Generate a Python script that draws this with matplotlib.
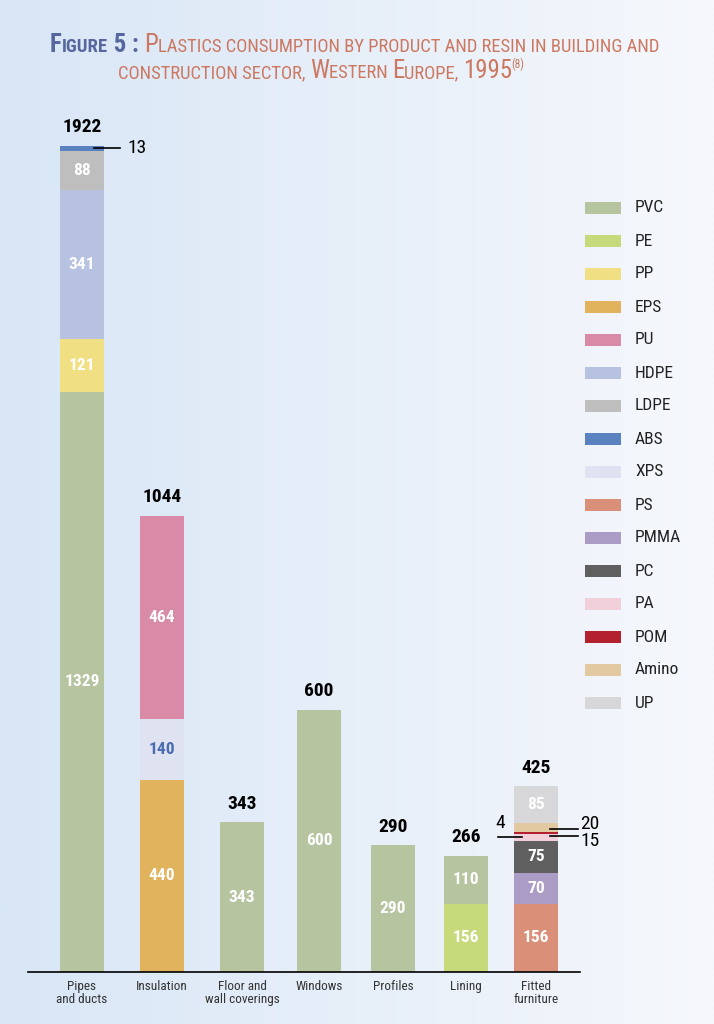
import matplotlib
matplotlib.use("Agg")
import matplotlib.pyplot as plt
import numpy as np
from matplotlib import font_manager as fm
from matplotlib.patches import Rectangle

names = {f.name for f in fm.fontManager.ttflist}
cands = [n for n in ["Roboto Condensed", "Liberation Sans Narrow", "Open Sans Condensed",
                     "DejaVu Sans Condensed", "Roboto", "Liberation Sans"] if n in names]
plt.rcParams['font.family'] = cands + ['DejaVu Sans']
plt.rcParams['font.stretch'] = 'condensed'

# ---------------- data ----------------
categories = ["Pipes\nand ducts", "Insulation", "Floor and\nwall coverings", "Windows",
              "Profiles", "Lining", "Fitted\nfurniture"]
totals = [1922, 1044, 343, 600, 290, 266, 425]
resins = ["PVC", "PE", "PP", "EPS", "PU", "HDPE", "LDPE", "ABS", "XPS", "PS",
          "PMMA", "PC", "PA", "POM", "Amino", "UP"]
# stacked segments per category, bottom to top: (resin, value)
pipes = [("PVC", 1329), ("PP", 121), ("HDPE", 341), ("LDPE", 88), ("ABS", 13)]
insulation = [("EPS", 440), ("XPS", 140), ("PU", 464)]
floor = [("PVC", 343)]
windows = [("PVC", 600)]
profiles = [("PVC", 290)]
lining = [("PE", 156), ("PVC", 110)]
furniture = [("PS", 156), ("PMMA", 70), ("PC", 75), ("PA", 15), ("POM", 4),
             ("Amino", 20), ("UP", 85)]
stacks = [pipes, insulation, floor, windows, profiles, lining, furniture]

colors = {"PVC": "#b6c5a0", "PE": "#c6da7c", "PP": "#f1df84", "EPS": "#e0b35c",
          "PU": "#d88aa6", "HDPE": "#b6c2e0", "LDPE": "#bebebe", "ABS": "#5a82c0",
          "XPS": "#dfe2f1", "PS": "#d98f78", "PMMA": "#ab9cc6", "PC": "#5f5f60",
          "PA": "#f1cfdb", "POM": "#b3202e", "Amino": "#e3c9a1", "UP": "#d7d7d9"}

# ---------------- figure ----------------
W, H = 714, 1024
fig = plt.figure(figsize=(W / 100, H / 100), dpi=100)

# background gradient
bg = fig.add_axes([0, 0, 1, 1], zorder=-10)
gx = np.linspace(0, 1, 256)
c0 = np.array([216, 230, 246]) / 255
c1 = np.array([246, 248, 252]) / 255
grad = c0[None, :] * (1 - gx[:, None]) + c1[None, :] * gx[:, None]
bg.imshow(grad[None, :, :], aspect="auto", extent=[0, 1, 0, 1])
bg.axis("off")

def px_ax(x0, y0, x1, y1):
    return [x0 / W, 1 - y1 / H, (x1 - x0) / W, (y1 - y0) / H]

ymax = 2000
ppu = 456 / 1044.0
top_px = 972 - ymax * ppu
ax = fig.add_axes(px_ax(28, top_px, 580, 972))
ax.patch.set_alpha(0)
xpos = [82, 162, 242, 319, 393, 466, 536]
bw = 44
ax.set_xlim(28, 580)
ax.set_ylim(0, ymax)

for i, stack in enumerate(stacks):
    bottom = 0
    for resin, v in stack:
        ax.bar(xpos[i], v, bottom=bottom, width=bw, color=colors[resin], linewidth=0)
        if v >= 50:
            tc = "#4a6db0" if resin == "XPS" else "white"
            ax.text(xpos[i], bottom + v / 2, str(v), ha="center", va="center",
                    color=tc, fontsize=12.5, fontweight="bold")
        bottom += v
    ax.text(xpos[i], bottom + 22, str(totals[i]), ha="center", va="bottom",
            fontsize=14, fontweight="bold", color="black")

for s in ["top", "right", "left"]:
    ax.spines[s].set_visible(False)
ax.spines["bottom"].set_linewidth(1.2)
ax.set_yticks([])
ax.set_xticks(xpos)
ax.set_xticklabels(categories, fontsize=9.5, color="#333333", linespacing=1.0)
ax.tick_params(axis="x", length=0, pad=6)

# callouts for small segments
def cum(stack, name):
    b = 0
    for r, v in stack:
        if r == name:
            return b + v / 2, v
        b += v

y13, v13 = cum(pipes, "ABS")
ax.plot([xpos[0] + 12, xpos[0] + 38], [y13, y13], color="black", lw=1.2)
ax.text(xpos[0] + 45, y13, str(v13), ha="left", va="center", fontsize=14)

y4, v4 = cum(furniture, "POM")
ax.plot([xpos[6] - 38, xpos[6] - 14], [y4 - 8, y4 - 8], color="black", lw=1.2)
ax.text(xpos[6] - 36, y4 + 22, str(v4), ha="center", va="center", fontsize=14)
y20, v20 = cum(furniture, "Amino")
ax.plot([xpos[6] + 14, xpos[6] + 42], [y20 - 2, y20 - 2], color="black", lw=1.2)
ax.text(xpos[6] + 44, y20 + 8, str(v20), ha="left", va="center", fontsize=14)
y15, v15 = cum(furniture, "PA")
ax.plot([xpos[6] + 14, xpos[6] + 42], [y15 + 2, y15 + 2], color="black", lw=1.2)
ax.text(xpos[6] + 44, y15 - 8, str(v15), ha="left", va="center", fontsize=14)

# legend
for k, r in enumerate(resins):
    yc = 208 + k * 33.0
    fig.add_artist(Rectangle((585 / W, 1 - (yc + 6) / H), 36 / W, 12 / H,
                             transform=fig.transFigure, color=colors[r], lw=0))
    fig.text(635 / W, 1 - yc / H, r, fontsize=12.5, color="#222222", va="center", ha="left")

# title with small caps
BLUE = "#56679e"
SAL = "#cc7760"
renderer = fig.canvas.get_renderer()

def draw_pieces(x_px, y_px, pieces, scale):
    x = x_px
    for txt, size, col, dy, wt in pieces:
        t = fig.text(x / W, 1 - (y_px - dy) / H, txt, fontsize=size * scale, color=col,
                     va="baseline", ha="left", fontweight=wt)
        bb = t.get_window_extent(renderer)
        x += bb.width
    return x

def measure(pieces, scale):
    w = 0
    for txt, size, col, dy, wt in pieces:
        t = fig.text(0, 0, txt, fontsize=size * scale, fontweight=wt)
        w += t.get_window_extent(renderer).width
        t.remove()
    return w

BIG, SMALL = 16, 12
line1 = [("F", BIG, BLUE, 0, "bold"), ("IGURE", SMALL, BLUE, 0, "bold"), (" 5 : ", BIG, BLUE, 0, "bold"),
         ("P", BIG, SAL, 0, "normal"),
         ("LASTICS CONSUMPTION BY PRODUCT AND RESIN IN BUILDING AND", SMALL, SAL, 0, "normal")]
line2 = [("CONSTRUCTION SECTOR, ", SMALL, SAL, 0, "normal"), ("W", BIG, SAL, 0, "normal"),
         ("ESTERN ", SMALL, SAL, 0, "normal"),
         ("E", BIG, SAL, 0, "normal"), ("UROPE, ", SMALL, SAL, 0, "normal"), ("1995", BIG, SAL, 0, "normal"),
         ("(8)", 7.5, SAL, 10, "normal")]
scale = (662 - 50) / measure(line1, 1.0)
draw_pieces(50, 52, line1, scale)
draw_pieces(118, 78, line2, scale)

fig.savefig("out.png", dpi=100)
